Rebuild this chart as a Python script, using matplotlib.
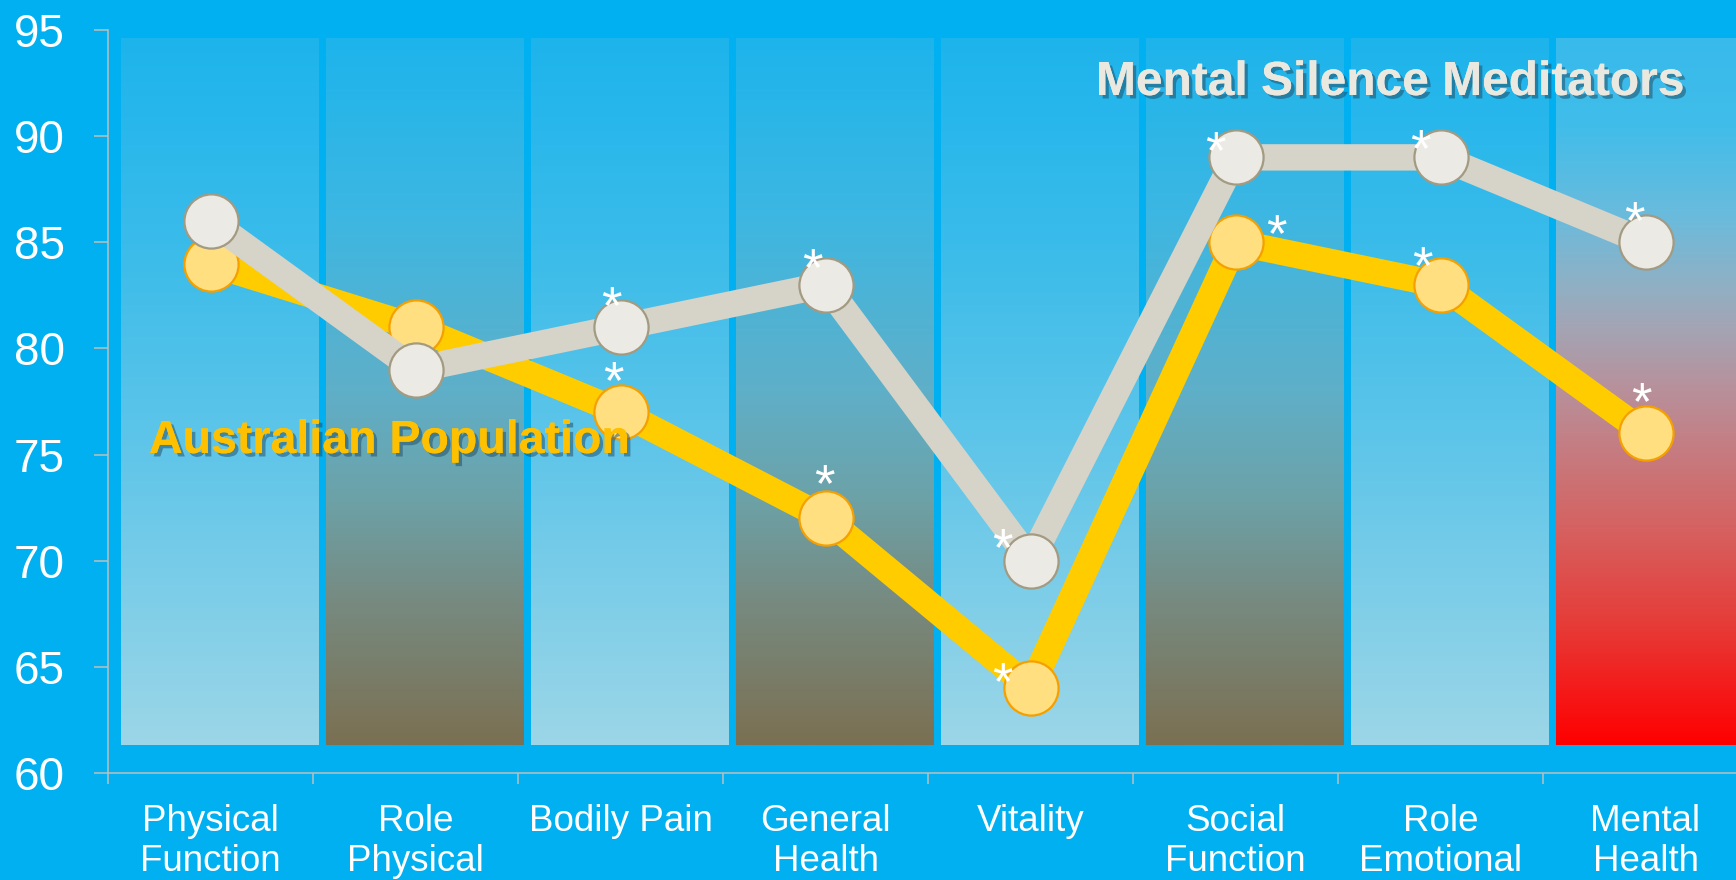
import numpy as np
import matplotlib
matplotlib.use('Agg')
import matplotlib.pyplot as plt
from matplotlib.colors import LinearSegmentedColormap
import matplotlib.patheffects as pe
from matplotlib import font_manager

# ---------------- data ----------------
categories = ['Physical\nFunction', 'Role\nPhysical', 'Bodily Pain', 'General\nHealth',
              'Vitality', 'Social\nFunction', 'Role\nEmotional', 'Mental\nHealth']
msm_values = [86, 79, 81, 83, 70, 89, 89, 85]
aus_values = [84, 81, 77, 72, 64, 85, 83, 76]
msm_sig = [False, False, True, True, True, True, True, True]
aus_sig = [False, False, True, True, True, True, True, True]
y_ticks = [60, 65, 70, 75, 80, 85, 90, 95]
series_names = ['Mental Silence Meditators', 'Australian Population']
band_styles = ['light', 'dark', 'light', 'dark', 'light', 'dark', 'light', 'red']
band_low, band_high = 61.3, 94.6

# asterisk placement (pixels, dx right, dy up) relative to each marker
msm_star_off = [(0, 0), (0, 0), (-9, 35), (-13, 30), (-28, 26), (-20, 20), (-20, 22), (-11, 35)]
aus_star_off = [(0, 0), (0, 0), (-7, 45), (-1, 48), (-28, 20), (41, 22), (-18, 32), (-4, 45)]

BG = '#00B0F0'
W, H = 1736, 880

names = {f.name for f in font_manager.fontManager.ttflist}
base_font = ['Liberation Sans', 'DejaVu Sans']
if 'Liberation Sans Narrow' in names:
    label_font = ['Liberation Sans Narrow', 'Liberation Sans', 'DejaVu Sans']
    label_sizes = (37.5, 37.5)
else:
    label_font = base_font
    label_sizes = (34.5, 33.5)
plt.rcParams['font.family'] = base_font

fig = plt.figure(figsize=(W / 100, H / 100), dpi=100, facecolor=BG)
ax = fig.add_axes([108 / W, 107 / H, 1640 / W, 743 / H])
ax.set_facecolor(BG)

cmaps = {
    'light': LinearSegmentedColormap.from_list('light', [
        (0.0, '#1DB4EC'), (0.3, '#3BBCEA'), (0.6, '#62C6E9'), (1.0, '#9CD6E7')]),
    'dark': LinearSegmentedColormap.from_list('dark', [
        (0.0, '#1DB4EC'), (0.25, '#3DB7E2'), (0.5, '#5FAFC8'), (0.65, '#6CA2A8'),
        (0.8, '#778A80'), (1.0, '#7B7052')]),
    'red': LinearSegmentedColormap.from_list('red', [
        (0.0, '#38BAEB'), (0.12, '#40BDEA'), (0.25, '#6ABBDD'), (0.35, '#90B0C4'),
        (0.41, '#A4A4B4'), (0.5, '#B8909A'), (0.6, '#C8787C'), (0.7, '#D6605F'),
        (0.83, '#E63C38'), (0.93, '#F51818'), (1.0, '#FF0000')]),
}
grad = np.linspace(0, 1, 256).reshape(-1, 1)
x = np.arange(len(categories))
for i, style in enumerate(band_styles):
    cx = x[i] + 0.045
    ax.imshow(grad, cmap=cmaps[style], aspect='auto', origin='upper',
              extent=(cx - 0.482, cx + 0.482, band_low, band_high), zorder=1,
              interpolation='bilinear')

lw = 19
ax.plot(x, aus_values, color='#FFCC00', lw=lw, zorder=3, solid_capstyle='butt',
        marker='o', ms=39, mfc='#FFDF80', mec='#F5A000', mew=1.6)
ax.plot(x, msm_values, color='#D6D3C8', lw=lw, zorder=4, solid_capstyle='butt',
        marker='o', ms=39, mfc='#ECEAE4', mec='#A39A82', mew=1.6)

star_fs = 38
star_center = 0.58 * star_fs * 100 / 72
for vals, sig, offs in ((msm_values, msm_sig, msm_star_off), (aus_values, aus_sig, aus_star_off)):
    for i, (v, s, o) in enumerate(zip(vals, sig, offs)):
        if s:
            ax.annotate('*', xy=(x[i], v), xytext=(o[0], o[1] - star_center),
                        textcoords='offset pixels', ha='center', va='baseline',
                        color='white', fontsize=star_fs, zorder=6)

ax.set_xlim(-0.5, 7.5)
ax.set_ylim(60, 95)
ax.set_yticks(y_ticks)
ax.set_yticklabels([str(t) for t in y_ticks])
ax.set_xticks(np.arange(-0.5, 8.0, 1.0))
ax.set_xticklabels([])
ax.set_xticks(x, minor=True)
ax.set_xticklabels(categories, minor=True)
ax.tick_params(axis='x', which='minor', length=0, pad=22, labelsize=26.5, labelcolor='white')
ax.tick_params(axis='x', which='major', length=8, width=1.1, color='#BFBFBF')
ax.tick_params(axis='y', length=10, width=1.1, color='#BFBFBF', pad=21,
               labelsize=33, labelcolor='white')
for sp in ('top', 'right'):
    ax.spines[sp].set_visible(False)
for sp in ('left', 'bottom'):
    ax.spines[sp].set_color('#BFBFBF')
    ax.spines[sp].set_linewidth(1.1)

shadow = [pe.withSimplePatchShadow(offset=(2.5, -2.5), shadow_rgbFace='#1F4A60', alpha=0.5),
          pe.Normal()]
fig.text(1096 / W, (H - 95) / H, series_names[0], ha='left', va='baseline',
         fontsize=label_sizes[0], fontweight='bold', color='#EBE8E0', family=label_font,
         path_effects=shadow, zorder=10)
fig.text(149 / W, (H - 453) / H, series_names[1], ha='left', va='baseline',
         fontsize=label_sizes[1], fontweight='bold', color='#FFC000', family=label_font,
         path_effects=shadow, zorder=10)

fig.savefig('out.png', dpi=100, facecolor=BG)
